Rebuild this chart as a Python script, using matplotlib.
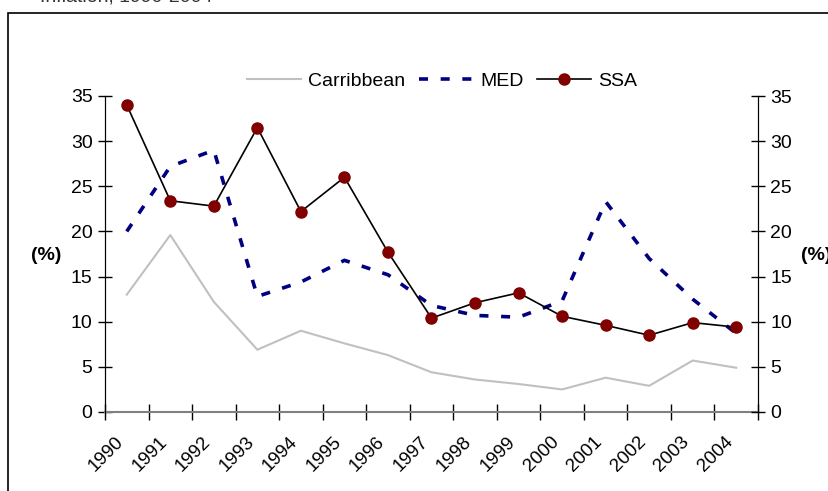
import matplotlib.pyplot as plt
from matplotlib.patches import Rectangle
import numpy as np

plt.rcParams.update({
    "font.family": ["Liberation Sans", "DejaVu Sans"],
    "font.size": 14,
})

years = ['1990', '1991', '1992', '1993', '1994', '1995', '1996', '1997',
         '1998', '1999', '2000', '2001', '2002', '2003', '2004']
caribbean = [13.0, 19.6, 12.2, 6.9, 9.0, 7.6, 6.3, 4.4, 3.6, 3.1, 2.5, 3.8, 2.9, 5.7, 4.9]
med = [20.0, 27.2, 29.0, 12.8, 14.4, 16.8, 15.2, 11.8, 10.7, 10.5, 12.3, 23.3, 17.0, 12.5, 8.7]
ssa = [34.0, 23.4, 22.8, 31.5, 22.2, 26.0, 17.7, 10.4, 12.1, 13.2, 10.6, 9.6, 8.5, 9.9, 9.4]


def make_chart():
    fig = plt.figure(figsize=(8.29, 4.91), dpi=100)
    ax = fig.add_axes([105 / 829, 1 - 412 / 491, 653 / 829, 316 / 491])

    # outer frame, cut off at the right and bottom like the source
    fig.patches.append(Rectangle((8 / 829, -0.1), 1.2, 1 - 13 / 491 + 0.1,
                                 transform=fig.transFigure, fill=False,
                                 edgecolor='black', linewidth=1.2))
    fig.text(40 / 829, 1 + 3 / 491, 'Inflation, 1990-2004', fontsize=14,
             color='#333333', va='center', ha='left')

    x = np.arange(len(years))
    ax.plot(x, caribbean, color='#c0c0c0', linewidth=1.5, label='Carribbean')
    ax.plot(x, med, color='#000080', linewidth=2.6, linestyle=(0, (2.5, 3.5)),
            label='MED')
    ax.plot(x, ssa, color='black', linewidth=1.2, marker='o', markersize=8,
            markerfacecolor='#800000', markeredgecolor='#800000', label='SSA')

    ax.set_xlim(-0.5, len(years) - 0.5)
    ax.set_ylim(0, 35)
    ax.set_yticks(np.arange(0, 36, 5))
    ax.set_xticks(np.arange(-0.5, len(years), 1.0))
    ax.set_xticklabels([])
    ax.set_xticks(x, minor=True)
    ax.set_xticklabels(years, minor=True, rotation=45, ha='right', va='bottom',
                       rotation_mode='anchor', fontsize=13.5)
    ax.tick_params(axis='x', which='minor', length=0, pad=24)
    ax.tick_params(axis='x', which='major', direction='inout', length=12,
                   width=1, color='black')
    ax.tick_params(axis='y', direction='inout', length=10, width=1, pad=4,
                   labelsize=14)

    ax.spines['top'].set_visible(False)
    ax.spines['bottom'].set_color('#808080')
    ax.spines['bottom'].set_linewidth(1.5)

    ax2 = ax.twinx()
    ax2.set_ylim(0, 35)
    ax2.set_yticks(np.arange(0, 36, 5))
    ax2.tick_params(axis='y', direction='inout', length=10, width=1, pad=4,
                    labelsize=14)
    ax2.spines['top'].set_visible(False)
    ax2.spines['bottom'].set_visible(False)

    fig.text(46 / 829, 1 - 255 / 491, '(%)', fontweight='bold', fontsize=14,
             ha='center', va='center')
    fig.text(816 / 829, 1 - 255 / 491, '(%)', fontweight='bold', fontsize=14,
             ha='center', va='center')

    ax.legend(loc='upper center', bbox_to_anchor=(0.516, 1.13), ncol=3,
              frameon=False, handlelength=2.8, handletextpad=0.35,
              columnspacing=0.7, fontsize=14)

    fig.savefig('out.png', dpi=100)


if __name__ == "__main__":
    make_chart()
